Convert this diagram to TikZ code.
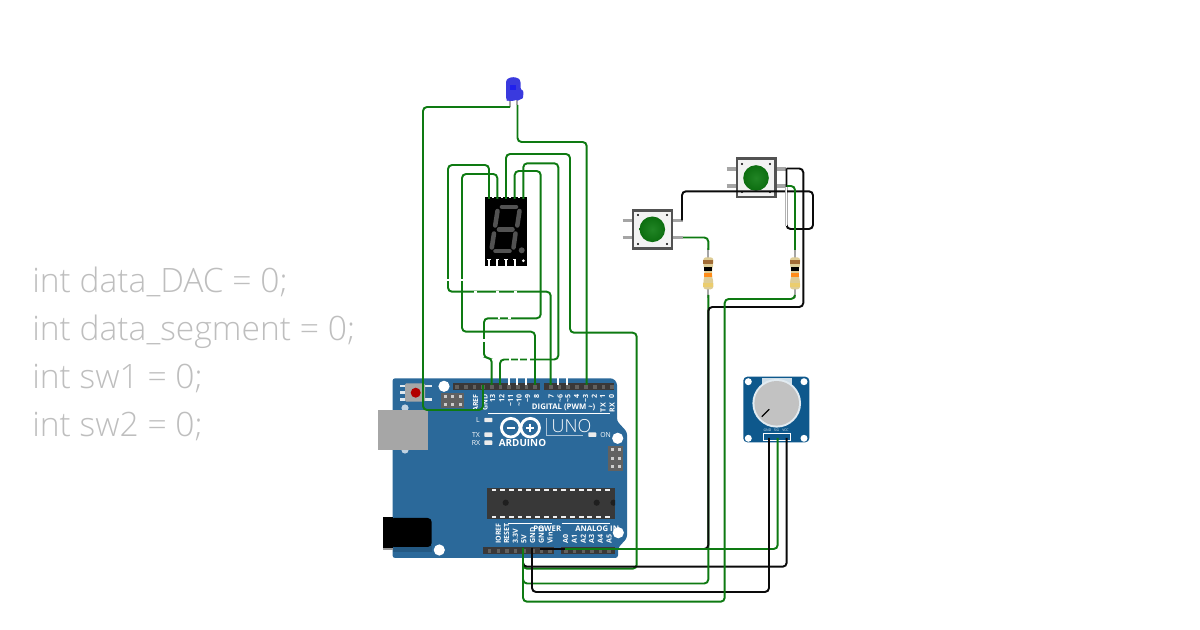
\documentclass[tikz,border=0pt]{standalone}
\usepackage{fontspec}
\setmainfont{Open Sans}
\newfontfamily\codefont{Open Sans Light}
\newfontfamily\unofont{Open Sans Light}
\definecolor{wg}{RGB}{14,122,18}
\definecolor{wk}{RGB}{10,10,10}
\definecolor{board}{RGB}{43,105,154}
\definecolor{potb}{RGB}{14,88,140}
\definecolor{hdr}{RGB}{58,56,56}
\definecolor{pinc}{RGB}{98,96,94}
\definecolor{leg}{RGB}{165,165,165}
\definecolor{code}{RGB}{190,190,190}
\definecolor{rbody}{RGB}{222,205,150}
\definecolor{rgold}{RGB}{235,205,110}
\definecolor{ledb}{RGB}{58,58,222}
\tikzset{
  greenwire/.style={draw=wg,line width=1.45pt,rounded corners=3pt},
  blackwire/.style={draw=wk,line width=1.45pt,rounded corners=3pt},
  whitemark/.style={draw=white,line width=1.6pt},
  codeline/.style={anchor=base west,inner sep=0pt,text=code,font=\codefont\fontsize{25.2}{28}\selectfont},
  pinlabel/.style={text=white,inner sep=0pt,rotate=90,font=\bfseries\fontsize{5.3}{6}\selectfont},
  boardlabel/.style={text=white,inner sep=0pt,font=\bfseries\fontsize{5.8}{6}\selectfont},
  smallled/.style={fill=white!85!gray,draw=none,rounded corners=0.5pt},
  hole/.style={fill=white,draw=none},
  legline/.style={draw=leg,line width=2.4pt},
  lead/.style={draw=leg,line width=1.7pt},
  seg/.style={draw=black!68,line width=3.4pt,line cap=round},
  btnbody/.style={fill=white!90!gray,draw=black!68,line width=2.1pt},
  btncap/.style={inner color=wg!92!white,outer color=wg!90!black}
}
\begin{document}
\begin{tikzpicture}[x=0.75pt,y=-0.75pt]
\useasboundingbox (0,0) rectangle (1200,630);

% code text
\node[codeline] (codeA) at (32,292.5) {int data\_DAC = 0;};
\node[codeline] (codeB) at (32,340.3) {int data\_segment = 0;};
\node[codeline] (codeC) at (32,388.3) {int sw1 = 0;};
\node[codeline] (codeD) at (32,436.3) {int sw2 = 0;};

% ---------- Arduino board
\fill[board,rounded corners=2pt] (392.5,378.3) -- (613,378.3) -- (617,382.5) -- (617,421) -- (627,432) -- (627,538) -- (618,548) -- (618,558) -- (392.5,558) -- cycle;
% reset button
\foreach \yy in {386,392.7,399.3} \fill[white!85!board] (399.5,\yy-1.3) rectangle (405,\yy+1.3);
\foreach \yy in {386,399.3} \fill[white!85!board] (425,\yy-1.3) rectangle (431.5,\yy+1.3);
\fill[black!35,rounded corners=1pt] (405,383.3) rectangle (425,401.7);
\fill[red!70!black] (415.7,392.7) circle (5);
% holes
\fill[hole] (444,386.3) circle (5.6);
\fill[hole] (617.7,438.3) circle (5.6);
\fill[hole] (439.3,550) circle (5.6);
\fill[hole] (618.3,532.7) circle (5.6);
% ICSP headers
\fill[black!62] (441,393.3) rectangle (464,408.5);
\foreach \xx in {445,452.5,460} \foreach \yy in {397,405} \fill[white!60!gray] (\xx-1.5,\yy-1.5) rectangle (\xx+1.5,\yy+1.5);
\fill[black!62] (608.3,446) rectangle (623.3,471);
\foreach \xx in {612,619.5} \foreach \yy in {450,458.5,466.5} \fill[white!60!gray] (\xx-1.5,\yy-1.5) rectangle (\xx+1.5,\yy+1.5);
% USB
\fill[white!70!board] (405,408) circle (3.6);
\fill[white!70!board] (405,450) circle (3.6);
\fill[black!35] (378,410) rectangle (428,450.5);
% power jack
\fill[board!85!black] (392.7,545) rectangle (431.7,552);
\fill[black!40] (383.3,547) rectangle (392.7,550.5);
\fill[black] (383.3,516.7) rectangle (392.7,548);
\fill[black,rounded corners=3pt] (390,518) rectangle (431.7,547);
% chip
\fill[black!78] (487.3,488.3) rectangle (615,519);
\foreach \i in {0,...,13} {
  \fill[white!88!gray] (491.5+\i*8.72,489) rectangle (496.3+\i*8.72,490.8);
  \fill[white!88!gray] (491.5+\i*8.72,516.2) rectangle (496.3+\i*8.72,518);
}
\fill[black!88] (505.7,502.7) circle (3.1);
\fill[black!88] (596.7,502.7) circle (3.1);
\begin{scope}
\clip (487.3,488.3) rectangle (615,519);
\fill[black!88] (613.5,502.7) circle (3.1);
\end{scope}
% pin headers
\fill[hdr] (452.7,382.7) rectangle (540,390);
\fill[hdr] (544,382.7) rectangle (614.3,390);
\fill[hdr] (483.3,546.7) rectangle (554,554.3);
\fill[hdr] (561,546.7) rectangle (615,554.3);
\foreach \xx in {457,465.7,474.4,483,491.7,500.4,509,517.7,526.4,535,550.7,559.4,568,576.7,586,594.7,603.4,612}
  \fill[pinc] (\xx-1.8,385) rectangle (\xx+1.8,388.6);
\foreach \xx in {489.5,498.3,506.7,515.3,524,532.7,541.3,550,565.7,574.3,583.3,591.7,600.3,609}
  \fill[pinc] (\xx-1.8,549) rectangle (\xx+1.8,552.8);
% header labels
\foreach \xx/\tt [count=\i] in {475.7/AREF,485/GND,492.7/13,501.7/12,510.7/\textasciitilde 11,519/\textasciitilde 10,527.7/\textasciitilde 9,536.7/8,551/7,560/\textasciitilde 6,568/\textasciitilde 5,576.7/4,585.7/\textasciitilde 3,594.3/2,602.7/1,611.7/0}
  \node[pinlabel,anchor=east] (dig\i) at (\xx,394) {\tt};
\node[pinlabel,anchor=east] (digTX) at (603,403) {TX};
\node[pinlabel,anchor=east] (digRX) at (612,403) {RX};
\foreach \xx/\tt [count=\i] in {498.3/IOREF,506.7/RESET,515.3/3.3V,524/5V,532.7/GND,541.3/GND,550/Vin,565.7/A0,574.3/A1,583.3/A2,591.7/A3,600.3/A4,609/A5}
  \node[pinlabel,anchor=west] (pow\i) at (\xx,544) {\tt};
\node[boardlabel,anchor=west] (digtitle) at (531.7,407.5) {DIGITAL (PWM \textasciitilde)};
\node[boardlabel,anchor=west] (powtitle) at (533,528.7) {POWER};
\node[boardlabel,anchor=west] (anatitle) at (575,528.7) {ANALOG IN};
\draw[white,line width=0.6pt] (488,413.3) -- (610,413.3);
\draw[white,line width=0.6pt] (508,523.3) -- (552,523.3);
\draw[white,line width=0.6pt] (561.7,523.3) -- (610,523.3);
% small LEDs and labels
\fill[smallled] (484.3,417.8) rectangle (492.3,422.2);
\fill[smallled] (484.3,432.5) rectangle (492.3,436.9);
\fill[smallled] (484.3,440.5) rectangle (492.3,444.9);
\fill[smallled] (588.3,432.5) rectangle (596.3,436.9);
\node[boardlabel,anchor=center,font=\fontsize{5.2}{6}\selectfont] (lblL) at (478,420) {L};
\node[boardlabel,anchor=center,font=\fontsize{5.2}{6}\selectfont] (lblTX) at (476,434.7) {TX};
\node[boardlabel,anchor=center,font=\fontsize{5.2}{6}\selectfont] (lblRX) at (476,442.7) {RX};
\node[boardlabel,anchor=west,font=\fontsize{5.2}{6}\selectfont] (lblON) at (600,434.7) {ON};
% logo
\draw[white,line width=2.1pt] (510.7,427.7) circle (9.3);
\draw[white,line width=2.1pt] (530.2,427.7) circle (9.3);
\draw[white,line width=1.4pt] (506.5,427.7) -- (514.5,427.7);
\draw[white,line width=1.4pt] (526.2,427.7) -- (534.2,427.7) (530.2,423.7) -- (530.2,431.7);
\node[boardlabel,anchor=center,font=\bfseries\fontsize{7.4}{8}\selectfont] (lblArd) at (522.5,442.7) {ARDUINO};
\node[text=white,inner sep=0pt,anchor=center,font=\unofont\fontsize{13.5}{16}\selectfont] (lblUno) at (571.5,426) {UNO};
\draw[white!60!board,line width=0.5pt] (546.7,418) -- (546.7,435.7) -- (583,435.7);

% ---------- 7 segment display
\fill[black] (485,196.7) rectangle (527.3,265.7);
\foreach \xx in {493.2,501.7,510.3,519} \fill[white] (\xx-1,196.7) rectangle (\xx+1,198);
\foreach \xx [count=\i] in {489,497.3,506,514.7} {
  \fill[white] (\xx-0.9,259) rectangle (\xx+0.9,265.7);
  \fill[white] (\xx-1.7,259) rectangle (\xx+1.7,260.5);
}
\fill[white] (523.3,260.7) circle (1.5);
\draw[seg] (502,207) -- (516,207);
\draw[seg] (499,229.5) -- (512.5,229.5);
\draw[seg] (495.5,251.2) -- (509.5,251.2);
\draw[seg] (497.5,211) -- (495.2,225.5);
\draw[seg] (519.5,211) -- (517.3,225.5);
\draw[seg] (494,233.5) -- (491.8,247.5);
\draw[seg] (515.5,233.5) -- (513.5,247.5);
\fill[black!68] (521.7,250.3) circle (3);

% ---------- LED
\draw[lead] (510,100) -- (510,107);
\draw[lead] (517.3,98) -- (517.3,105);
\fill[ledb,rounded corners=2pt] (506,100) -- (506,85) .. controls (506,75.5) and (520.5,75.5) .. (520.5,85) -- (520.5,90) .. controls (523.5,91) and (523.5,98) .. (520,99.5) .. controls (518,100.5) and (516,100) .. (514,101) -- (508,101) -- cycle;
\fill[blue!45!ledb] (510,85) -- (516,85) -- (516,90) -- (510,90) -- cycle;

% ---------- Buttons
\draw[legline] (622.5,220.5) -- (633,220.5) (622.5,237.5) -- (633,237.5) (672,220.5) -- (683,220.5) (672,237.5) -- (683,237.5);
\draw[btnbody] (633,210.5) rectangle (672,248.5);
\foreach \xx in {638,667}{ \foreach \yy in {215,244} \fill[black] (\xx,\yy) circle (1.2); }
\shade[btncap] (652.3,229.3) circle (12.8);
\draw[legline] (726.5,169) -- (737,169) (726.5,186) -- (737,186) (775,169) -- (786,169) (775,186) -- (786,186);
\draw[btnbody] (737,158.7) rectangle (775.3,197);
\foreach \xx in {742,770}{ \foreach \yy in {164,192} \fill[black] (\xx,\yy) circle (1.2); }
\shade[btncap] (756,178) circle (12.8);

% ---------- Resistors
\foreach \xx [count=\i] in {708.3,795} {
  \draw[lead] (\xx,248) -- (\xx,298);
  \fill[rbody,rounded corners=2pt] (\xx-5,257.3) -- (\xx+5,257.3) -- (\xx+5,265) -- (\xx+3.9,268) -- (\xx+3.9,278) -- (\xx+5,281) -- (\xx+5,289.3) -- (\xx-5,289.3) -- (\xx-5,281) -- (\xx-3.9,278) -- (\xx-3.9,268) -- (\xx-5,265) -- cycle;
  \fill[brown!85!black] (\xx-5,260) rectangle (\xx+5,264);
  \fill[black] (\xx-3.9,267.3) rectangle (\xx+3.9,270.7);
  \fill[orange!90!white] (\xx-3.9,273.3) rectangle (\xx+3.9,276.7);
  \fill[rgold] (\xx-5,283.3) rectangle (\xx+5,286.7);
}

% ---------- Potentiometer
\fill[potb,rounded corners=3pt] (743.3,376.7) rectangle (809.3,442.3);
\fill[white!80!potb] (761.7,378.5) rectangle (791.7,386);
\foreach \xx in {748.3,804} \foreach \yy in {381.7,438.3} \fill[hole] (\xx,\yy) circle (3.5);
\fill[white!88!potb] (776.7,403.3) circle (24.3);
\fill[black!24] (776.7,403.3) circle (22.3);
\draw[black,line width=0.9pt] (761.7,416.7) -- (769.3,409.3);
\draw[white,line width=0.8pt,fill=potb] (763.3,433.3) rectangle (790.7,440.7);
\foreach \xx/\tt [count=\i] in {767.5/GND,776.5/SIG,785.5/VCC}
  \node[text=white!85!potb,inner sep=0pt,font=\fontsize{2.6}{3}\selectfont] (potlbl\i) at (\xx,430.7) {\tt};

% ---------- Named connection points
\coordinate (ledA) at (510,107);
\coordinate (ledK) at (517.5,105);
\coordinate (segA) at (489,199);
\coordinate (segB) at (497.3,199);
\coordinate (segC) at (506,199);
\coordinate (segD) at (514.7,199);
\coordinate (segE) at (523.3,199);
\coordinate (pGNDd) at (483,385);
\coordinate (p13) at (491.7,385);
\coordinate (p12) at (500,385);
\coordinate (p8) at (535,385);
\coordinate (p7) at (550.7,385);
\coordinate (p3) at (586.7,385);
\coordinate (p5V) at (523,548);
\coordinate (pGNDa) at (532,548);
\coordinate (pGNDb) at (540,549);
\coordinate (pA0) at (565,549);
\coordinate (b1top) at (682,220.5);
\coordinate (b1bot) at (683,237.5);
\coordinate (b2top) at (786.5,168.5);
\coordinate (b2bot) at (786.5,186);
\coordinate (r1t) at (708.3,250);
\coordinate (r1b) at (708.3,295);
\coordinate (r2t) at (795,250);
\coordinate (r2b) at (795,295);
\coordinate (potL) at (769,438);
\coordinate (potM) at (777.7,438);
\coordinate (potR) at (786.7,438);

% ---------- Wires
\draw[greenwire] (ledA) -- (423,107) -- (423,410) -- (483,410) -- (pGNDd);
\draw[greenwire] (ledK) -- (517.5,142) -- (586.7,142) -- (p3);
\draw[greenwire] (segA) -- (489,165) -- (448,165) -- (448,291.7) -- (550.7,291.7) -- (p7);
\draw[greenwire] (segB) -- (497.3,174) -- (462,174) -- (462,331.7) -- (535,331.7) -- (p8);
\draw[greenwire] (segD) -- (514.7,171) -- (540.7,171) -- (540.7,318.3) -- (484,318.3) -- (484,358) -- (491.7,358) -- (p13);
\draw[greenwire] (segE) -- (523.3,163.3) -- (558.3,163.3) -- (558.3,359.5) -- (500,359.5) -- (p12);
\draw[greenwire] (segC) -- (506,154) -- (570,154) -- (570,332.7) -- (636.7,332.7) -- (636.7,568.7) -- (523,568.7) -- (p5V);
\draw[greenwire] (b1bot) -- (708.3,237.5) -- (r1t);
% white wires crossing the green ones
\foreach \xa/\ya/\xb/\yb in {
  446.5/280/449.5/280, 460.5/280/463.5/280,
  474/291.7/476.5/291.7, 496/291.7/499/291.7, 514/291.7/517/291.7,
  497.5/318.3/500/318.3, 508/318.3/511/318.3,
  484/339.5/484/342.5,
  508.5/359.5/511/359.5, 517.5/359.5/520/359.5, 527/359.5/530/359.5,
  509/378/509/385, 517.4/378/517.4/385, 526/378/526/385, 558.4/378/558.4/385, 566.8/378/566.8/385}
  \draw[whitemark] (\xa,\ya) -- (\xb,\yb);
% power and signal wires, in stacking order
\draw[blackwire] (potR) -- (786.7,566.7) -- (523,566.7) -- (p5V);
\draw[greenwire] (r1b) -- (708.3,583.5) -- (523,583.5) -- (p5V);
\draw[blackwire] (b2top) -- (803.3,168.5) -- (803.3,307) -- (708.3,307) -- (708.3,549) -- (pGNDb);
\draw[greenwire] (pA0) -- (777.7,549) -- (potM);
\draw[blackwire] (potL) -- (769,592) -- (532,592) -- (pGNDa);
\draw[greenwire] (r2b) -- (795,299) -- (724.7,299) -- (724.7,601.7) -- (523,601.7) -- (p5V);
\draw[blackwire] (b2top) -- (786.5,229) -- (813,229) -- (813,191.3) -- (682,191.3) -- (b1top);
\draw[draw=black!30,line width=1.4pt] (786.3,187) -- (786.3,226);
\draw[draw=white,line width=1.0pt] (786.3,187) -- (786.3,226);
\draw[greenwire] (b2bot) -- (795,186) -- (r2t);
\end{tikzpicture}
\end{document}
